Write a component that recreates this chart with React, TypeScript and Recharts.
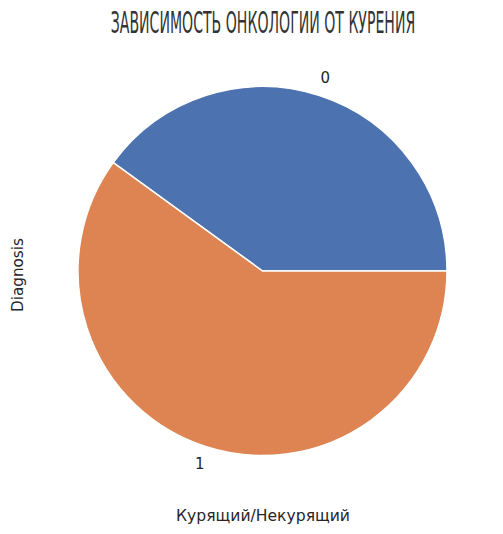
import { Cell, Pie, PieChart } from "recharts";

const categories = ["0", "1"];
const shares = [40, 60];
const sliceColors = ["#4c72b0", "#dd8452"];

const title = "Зависимость онкологии от курения";
const xLabel = "Курящий/Некурящий";
const yLabel = "Diagnosis";

const data = categories.map((name, i) => ({ name, value: shares[i] }));

const RAD = Math.PI / 180;
const TITLE_SX = 0.522;

function renderLabel(props: any) {
  const { cx, cy, midAngle, outerRadius, name } = props;
  const r = outerRadius * 1.1;
  const x = cx + r * Math.cos(-midAngle * RAD);
  const y = cy + r * Math.sin(-midAngle * RAD);
  return (
    <text
      x={x}
      y={y}
      textAnchor="middle"
      dominantBaseline="central"
      fill="#262626"
      fontSize={15}
      fontFamily="DejaVu Sans"
    >
      {name}
    </text>
  );
}

export default function App() {
  return (
    <div style={{ position: "absolute", left: 0, top: 0, width: 503, height: 534, background: "#fff" }}>
      <PieChart width={503} height={534} margin={{ top: 0, right: 0, bottom: 0, left: 0 }}>
        <Pie
          data={data}
          dataKey="value"
          nameKey="name"
          cx={262.5}
          cy={271}
          outerRadius={184.5}
          startAngle={0}
          endAngle={360}
          stroke="#fff"
          strokeWidth={1.5}
          label={renderLabel}
          labelLine={false}
          isAnimationActive={false}
        >
          {data.map((_, i) => (
            <Cell key={`slice-${i}`} fill={sliceColors[i % sliceColors.length]} />
          ))}
        </Pie>
      </PieChart>
      <svg
        width={503}
        height={534}
        style={{ position: "absolute", left: 0, top: 0, pointerEvents: "none" }}
      >
        <g transform={`scale(${TITLE_SX} 1)`}>
          <text
            x={263 / TITLE_SX}
            y={33}
            textAnchor="middle"
            fill="#333"
            fontSize={30}
            fontFamily="Liberation Sans Narrow, DejaVu Sans Condensed"
            style={{ textTransform: "uppercase" }}
          >
            {title}
          </text>
        </g>
        <text
          x={263}
          y={521}
          textAnchor="middle"
          fill="#262626"
          fontSize={15.6}
          fontFamily="DejaVu Sans"
        >
          {xLabel}
        </text>
        <text
          x={23}
          y={275}
          textAnchor="middle"
          fill="#262626"
          fontSize={15.2}
          fontFamily="DejaVu Sans"
          transform="rotate(-90 23 275)"
        >
          {yLabel}
        </text>
      </svg>
    </div>
  );
}
